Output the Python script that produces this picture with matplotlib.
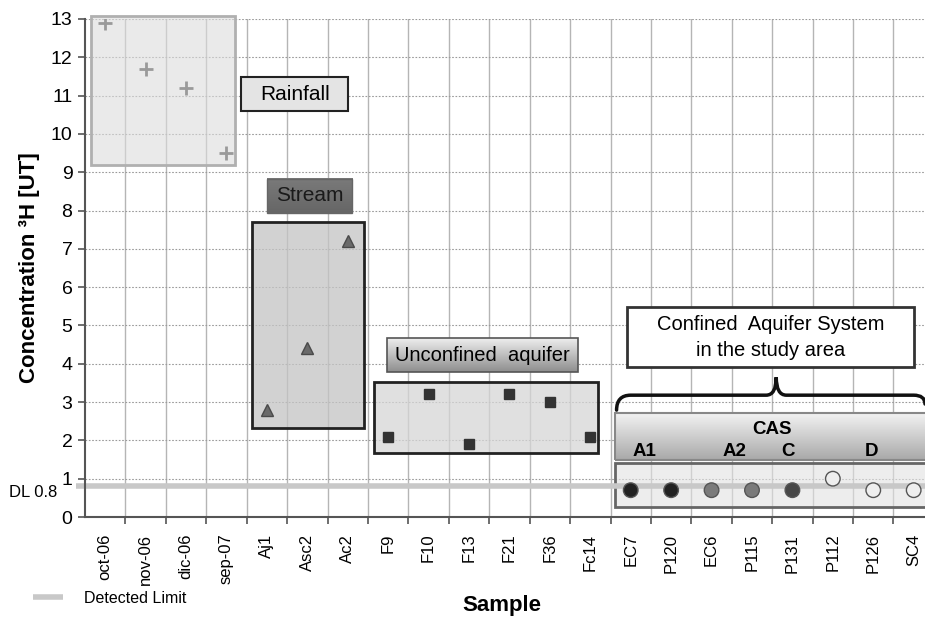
import numpy as np
import matplotlib
matplotlib.use("Agg")
import matplotlib.pyplot as plt
from matplotlib.patches import Rectangle, PathPatch
from matplotlib.path import Path

plt.rcParams['font.family'] = ['Liberation Sans', 'DejaVu Sans']

categories = ["oct-06", "nov-06", "dic-06", "sep-07", "Aj1", "Asc2", "Ac2",
              "F9", "F10", "F13", "F21", "F36", "Fc14",
              "EC7", "P120", "EC6", "P115", "P131", "P112", "P126", "SC4"]

rain_samples = ["oct-06", "nov-06", "dic-06", "sep-07"]
rain_values = [12.9, 11.7, 11.2, 9.5]

stream_samples = ["Aj1", "Asc2", "Ac2"]
stream_values = [2.8, 4.4, 7.2]

unconf_samples = ["F9", "F10", "F13", "F21", "F36", "Fc14"]
unconf_values = [2.1, 3.2, 1.9, 3.2, 3.0, 2.1]

cas_samples = ["EC7", "P120", "EC6", "P115", "P131", "P112", "P126", "SC4"]
cas_values = [0.7, 0.7, 0.7, 0.7, 0.7, 1.0, 0.7, 0.7]
cas_colors = ["#222222", "#222222", "#7a7a7a", "#7a7a7a", "#474747",
              "#eeeeee", "#eeeeee", "#eeeeee"]

detection_limit = 0.8

idx = {c: i for i, c in enumerate(categories)}

fig = plt.figure(figsize=(9.25, 6.17), dpi=100)
ax = fig.add_axes([85/925, 100/617, 1 - 85/925, 498/617])
XMAX = 20.28
ax.set_xlim(-0.5, XMAX)
ax.set_ylim(0, 13)

# grid
for b in np.arange(0.5, 20.6, 1.0):
    ax.axvline(b, color="#b5b5b5", lw=1.0, zorder=0)
for yv in range(1, 14):
    ax.axhline(yv, color="#9a9a9a", lw=0.8, ls=(0, (1.5, 1.5)), zorder=0)

for s in ["top", "right"]:
    ax.spines[s].set_visible(False)
for s in ["left", "bottom"]:
    ax.spines[s].set_color("#555555")
    ax.spines[s].set_linewidth(1.5)

ax.set_yticks(range(0, 14))
ax.tick_params(axis="y", labelsize=14, length=5, color="#555555", width=1.2, pad=4)
ax.set_xticks(np.arange(0.5, 20.6, 1.0))
ax.set_xticklabels([])
ax.tick_params(axis="x", which="major", length=5, color="#555555", width=1.2)
ax.set_xticks(range(len(categories)), minor=True)
ax.set_xticklabels(categories, minor=True, rotation=90, fontsize=12)
ax.tick_params(axis="x", which="minor", length=0, pad=12)

ax.set_ylabel("Concentration ³H [UT]", fontsize=16, fontweight="bold", labelpad=8)
ax.set_xlabel("Sample", fontsize=16, fontweight="bold")
ax.xaxis.set_label_coords((502 - 85) / (925 - 85), (11 - 100) / 498)
ax.xaxis.label.set_va("center")


def box(x0, y0, x1, y1, fc, ec, lw=2.0, z=1, alpha=1.0):
    r = Rectangle((x0, y0), x1 - x0, y1 - y0, facecolor=matplotlib.colors.to_rgba(fc, alpha),
                  edgecolor=ec, lw=lw, zorder=z, clip_on=False)
    ax.add_patch(r)
    return r


def gradient_box(x0, y0, x1, y1, ctop, cbot, ec, lw=1.5, z=2):
    top = np.array(matplotlib.colors.to_rgb(ctop))
    bot = np.array(matplotlib.colors.to_rgb(cbot))
    t = np.linspace(0, 1, 64)[:, None]
    img = (top[None, :] * (1 - t) + bot[None, :] * t)[:, None, :]
    ax.imshow(img, extent=[x0, x1, y0, y1], aspect="auto", origin="upper",
              zorder=z, interpolation="bilinear")
    ax.add_patch(Rectangle((x0, y0), x1 - x0, y1 - y0, facecolor="none",
                           edgecolor=ec, lw=lw, zorder=z + 0.1))


# Rainfall group
box(-0.35, 9.19, 3.22, 13.07, "#dcdcdc", "#b0b0b0", lw=2.0, alpha=0.6)
box(3.37, 10.6, 6.01, 11.48, "#e4e4e4", "#222222", lw=1.5, z=2)
ax.text((3.37 + 6.01) / 2, (10.6 + 11.48) / 2, "Rainfall", ha="center", va="center",
        fontsize=15, zorder=3)
ax.plot([idx[c] for c in rain_samples], rain_values, ls="none", marker="+",
        ms=10, mew=2, color="#9a9a9a", zorder=4)

# Stream group
box(3.64, 2.32, 6.41, 7.71, "#c4c4c4", "#222222", lw=2.0, alpha=0.75)
gradient_box(3.99, 7.94, 6.11, 8.83, "#7a7a7a", "#666666", "#666666", lw=1.0)
ax.text((3.99 + 6.11) / 2, (7.94 + 8.83) / 2, "Stream", ha="center", va="center",
        fontsize=15, color="#1a1a1a", zorder=3)
ax.plot([idx[c] for c in stream_samples], stream_values, ls="none", marker="^",
        ms=9, color="#6a6a6a", mec="#4a4a4a", zorder=4)

# Unconfined aquifer group
box(6.66, 1.67, 12.2, 3.52, "#d6d6d6", "#222222", lw=2.0, alpha=0.75)
gradient_box(6.98, 3.78, 11.7, 4.66, "#eeeeee", "#8e8e8e", "#555555", lw=1.2)
ax.text((6.98 + 11.7) / 2, (3.78 + 4.66) / 2, "Unconfined  aquifer", ha="center",
        va="center", fontsize=14.5, zorder=3)
ax.plot([idx[c] for c in unconf_samples], unconf_values, ls="none", marker="s",
        ms=7, color="#333333", zorder=4)

# Confined aquifer system
box(12.92, 3.91, 20.02, 5.48, "#ffffff", "#333333", lw=2.0, z=2)
ax.text(16.47, 4.695, "Confined  Aquifer System\nin the study area", ha="center",
        va="center", fontsize=14.5, linespacing=1.45, zorder=3)

# brace
verts = [(12.65, 2.79), (12.65, 3.18), (13.0, 3.18),
         (16.35, 3.18),
         (16.6, 3.18), (16.6, 3.65),
         (16.6, 3.18), (16.85, 3.18),
         (20.0, 3.18),
         (20.28, 3.18), (20.28, 2.95)]
codes = [Path.MOVETO, Path.CURVE3, Path.CURVE3, Path.LINETO,
         Path.CURVE3, Path.CURVE3, Path.CURVE3, Path.CURVE3,
         Path.LINETO, Path.CURVE3, Path.CURVE3]
ax.add_patch(PathPatch(Path(verts, codes), facecolor="none", edgecolor="#111111",
                       lw=2.5, zorder=3, clip_on=False, capstyle="round"))

gradient_box(12.6, 1.49, XMAX + 0.2, 2.71, "#f2f2f2", "#a9a9a9", "#888888", lw=1.5)
ax.text(16.5, 2.29, "CAS", ha="center", va="center", fontsize=13.5, fontweight="bold", zorder=3)
for lab, xv in [("A1", 13.34), ("A2", 15.57), ("C", 16.88), ("D", 18.96)]:
    ax.text(xv, 1.72, lab, ha="center", va="center", fontsize=13.5, fontweight="bold", zorder=3)

box(12.6, 0.26, XMAX + 0.2, 1.40, "#e2e2e2", "#666666", lw=2.0, z=1, alpha=0.6)

# detection limit
ax.plot([-0.72, XMAX], [detection_limit, detection_limit], color="#c8c8c8", lw=4,
        clip_on=False, zorder=2, solid_capstyle="butt", label="Detected Limit")
ax.text(-1.19, 0.63, "DL 0.8", ha="right", va="center", fontsize=12)

ax.scatter([idx[c] for c in cas_samples], cas_values, s=110, c=cas_colors,
           edgecolors="#555555", linewidths=1.0, zorder=5)

# restore limits after imshow
ax.set_xlim(-0.5, XMAX)
ax.set_ylim(0, 13)

fig.legend(loc="lower left", bbox_to_anchor=(0.02, -0.005), frameon=False,
           fontsize=11.5, handlelength=1.9, handletextpad=1.3)

fig.savefig("out.png", dpi=100)
